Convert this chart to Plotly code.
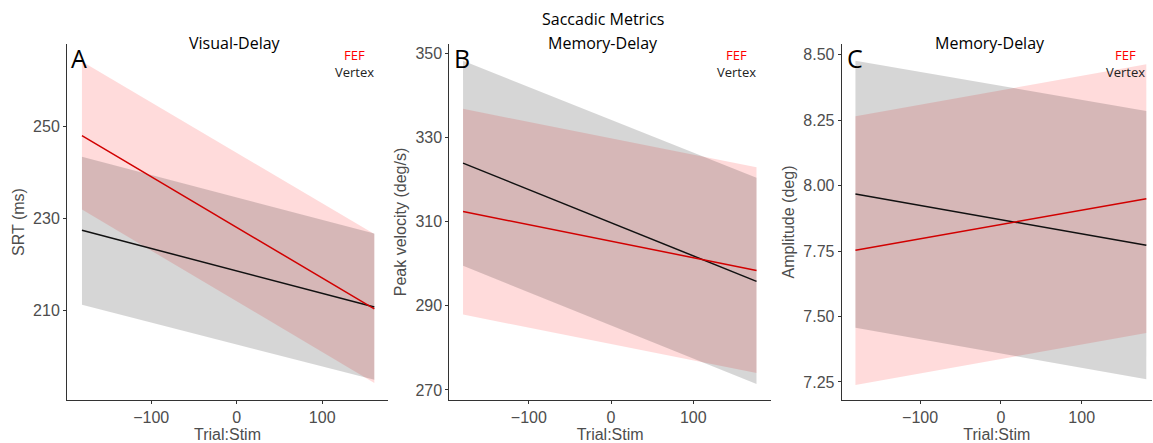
import plotly.graph_objects as go

# ---------------- data ----------------
# x extents of the fitted lines (Trial:Stim)
x_A = [-181, 161]
x_B = [-180, 177]
x_C = [-180, 180]

# Panel A: SRT (ms), Visual-Delay
A_fef_fit = [248.1, 210.4]
A_fef_lo = [232.0, 194.3]
A_fef_hi = [264.2, 226.7]
A_vtx_fit = [227.5, 210.8]
A_vtx_lo = [211.3, 195.0]
A_vtx_hi = [243.5, 226.8]

# Panel B: Peak velocity (deg/s), Memory-Delay
B_fef_fit = [312.4, 298.4]
B_fef_lo = [287.9, 274.0]
B_fef_hi = [336.8, 322.9]
B_vtx_fit = [323.9, 295.8]
B_vtx_lo = [299.5, 271.4]
B_vtx_hi = [348.2, 320.4]

# Panel C: Amplitude (deg), Memory-Delay
C_fef_fit = [7.753, 7.950]
C_fef_lo = [7.238, 7.437]
C_fef_hi = [8.265, 8.464]
C_vtx_fit = [7.968, 7.772]
C_vtx_lo = [7.457, 7.260]
C_vtx_hi = [8.477, 8.285]

x_ticks = [-100, 0, 100]
A_yticks = [210, 230, 250]
B_yticks = [270, 290, 310, 330, 350]
C_yticks = [7.25, 7.50, 7.75, 8.00, 8.25, 8.50]

panel_titles = ["Visual-Delay", "Memory-Delay", "Memory-Delay"]
y_titles = ["SRT (ms)", "Peak velocity (deg/s)", "Amplitude (deg)"]
letters = ["A", "B", "C"]
x_title = "Trial:Stim"
suptitle = "Saccadic Metrics"
group_names = ["FEF", "Vertex"]

# ---------------- styling ----------------
W, H = 1153, 443
RED = "#d10000"
BLACK = "#111111"
RED_FILL = "rgba(255,0,0,0.14)"
GRAY_FILL = "rgba(0,0,0,0.16)"
TICK_FONT = dict(family="Liberation Sans, Arial, sans-serif", size=16, color="#4d4d4d")
TITLE_FONT = dict(family="Liberation Sans, Arial, sans-serif", size=16, color="#4d4d4d")
TEXT_FAMILY = "Open Sans, Segoe UI, sans-serif"

def px_x(p):
    return p / W

def px_y(p):
    return 1 - p / H

panels = [
    dict(x=x_A, fef=(A_fef_fit, A_fef_lo, A_fef_hi), vtx=(A_vtx_fit, A_vtx_lo, A_vtx_hi),
         dom=[67, 388], xr=[-198.5, 177], yr=[190.6, 268], yt=A_yticks, fmt=None),
    dict(x=x_B, fef=(B_fef_fit, B_fef_lo, B_fef_hi), vtx=(B_vtx_fit, B_vtx_lo, B_vtx_hi),
         dom=[449.3, 771], xr=[-196.7, 194.6], yr=[267.6, 352.2], yt=B_yticks, fmt=None),
    dict(x=x_C, fef=(C_fef_fit, C_fef_lo, C_fef_hi), vtx=(C_vtx_fit, C_vtx_lo, C_vtx_hi),
         dom=[841.7, 1152], xr=[-197, 187], yr=[7.181, 8.541], yt=C_yticks, fmt=".2f"),
]

fig = go.Figure()
layout = dict(
    width=W, height=H,
    margin=dict(l=0, r=0, t=0, b=0),
    paper_bgcolor="white", plot_bgcolor="white",
    showlegend=False,
)

ydom = [px_y(400), px_y(44)]

for i, p in enumerate(panels):
    n = "" if i == 0 else str(i + 1)
    xa, ya = "x" + n, "y" + n
    # bands: FEF first, Vertex on top
    for (fit, lo, hi), fill in ((p["fef"], RED_FILL), (p["vtx"], GRAY_FILL)):
        fig.add_trace(go.Scatter(x=p["x"], y=lo, mode="lines", line=dict(width=0),
                                 xaxis=xa, yaxis=ya, hoverinfo="skip"))
        fig.add_trace(go.Scatter(x=p["x"], y=hi, mode="lines", line=dict(width=0),
                                 fill="tonexty", fillcolor=fill,
                                 xaxis=xa, yaxis=ya, hoverinfo="skip"))
    fig.add_trace(go.Scatter(x=p["x"], y=p["vtx"][0], mode="lines",
                             line=dict(color=BLACK, width=1.5), name="Vertex",
                             xaxis=xa, yaxis=ya))
    fig.add_trace(go.Scatter(x=p["x"], y=p["fef"][0], mode="lines",
                             line=dict(color=RED, width=1.5), name="FEF",
                             xaxis=xa, yaxis=ya))

    layout["xaxis" + n] = dict(
        domain=[px_x(p["dom"][0]), px_x(p["dom"][1])], anchor=ya,
        range=p["xr"], tickvals=x_ticks, showgrid=False, zeroline=False,
        showline=True, linecolor="#333333", linewidth=1,
        ticks="outside", ticklen=3, tickcolor="#333333", tickfont=TICK_FONT,
        title=dict(text=x_title, font=TITLE_FONT, standoff=0),
    )
    layout["yaxis" + n] = dict(
        domain=ydom, anchor=xa,
        range=p["yr"], tickvals=p["yt"], showgrid=False, zeroline=False,
        tickformat=p["fmt"],
        showline=True, linecolor="#333333", linewidth=1,
        ticks="outside", ticklen=3, tickcolor="#333333", tickfont=TICK_FONT,
        title=dict(text=y_titles[i], font=TITLE_FONT, standoff=4),
    )

annotations = []
annotations.append(dict(text=suptitle, x=px_x(603), y=px_y(19), xref="paper", yref="paper",
                        showarrow=False, xanchor="center", yanchor="middle",
                        font=dict(family=TEXT_FAMILY, size=16, color="black")))
title_x = [235, 603, 990]
letter_x = [69, 452, 845]
legend_x = [354, 736, 1125.5]
for i in range(3):
    annotations.append(dict(text=panel_titles[i], x=px_x(title_x[i]), y=px_y(43),
                            xref="paper", yref="paper", showarrow=False,
                            xanchor="center", yanchor="middle",
                            font=dict(family=TEXT_FAMILY, size=16, color="black")))
    annotations.append(dict(text=letters[i], x=px_x(letter_x[i]), y=px_y(58),
                            xref="paper", yref="paper", showarrow=False,
                            xanchor="left", yanchor="middle",
                            font=dict(family=TEXT_FAMILY, size=25, color="black")))
    annotations.append(dict(text=group_names[0], x=px_x(legend_x[i]), y=px_y(55),
                            xref="paper", yref="paper", showarrow=False,
                            xanchor="center", yanchor="middle",
                            font=dict(family=TEXT_FAMILY, size=13, color="#ff0000")))
    annotations.append(dict(text=group_names[1], x=px_x(legend_x[i]), y=px_y(72),
                            xref="paper", yref="paper", showarrow=False,
                            xanchor="center", yanchor="middle",
                            font=dict(family=TEXT_FAMILY, size=13, color="#222222")))
layout["annotations"] = annotations

fig.update_layout(**layout)
fig.write_html("out.html")
